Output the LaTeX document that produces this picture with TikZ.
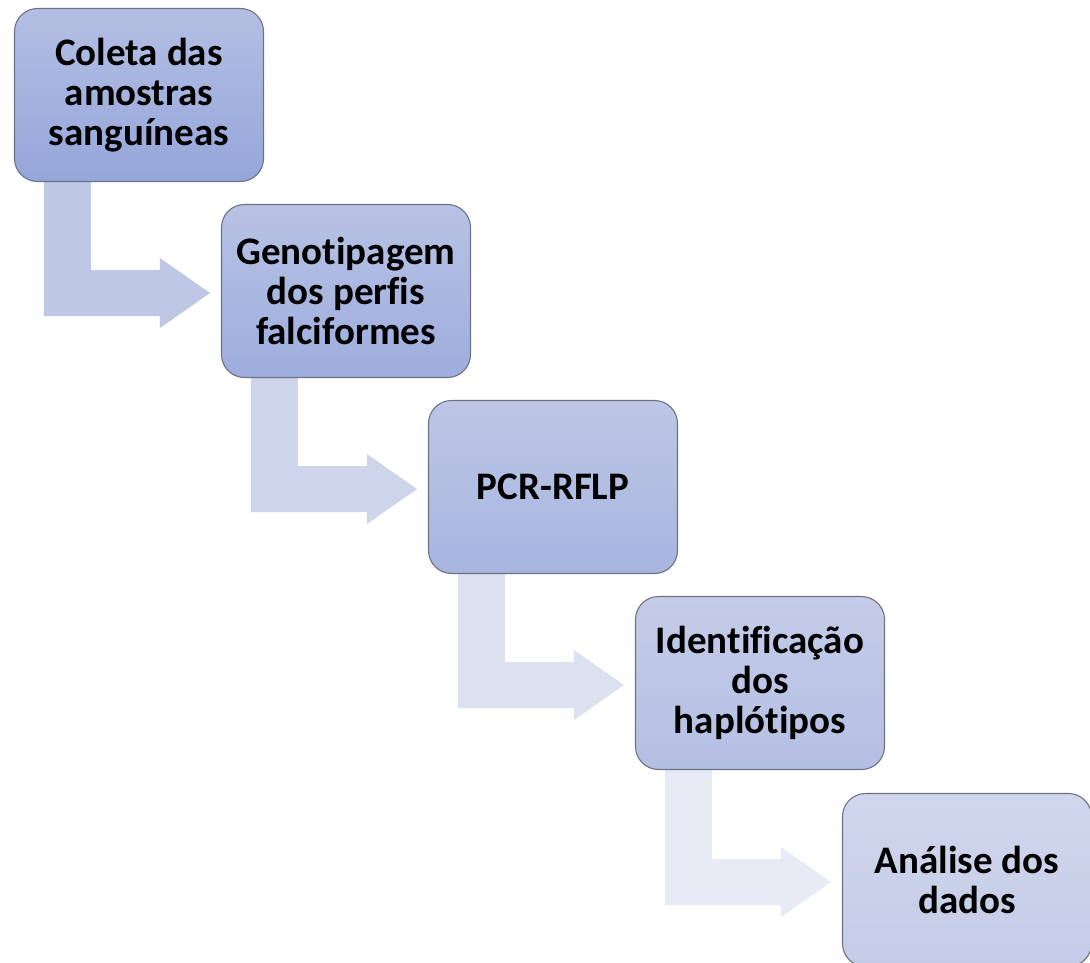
\documentclass[tikz,border=0pt]{standalone}
\usepackage{fontspec}
\setmainfont{Carlito}[Ligatures=NoCommon]
\usetikzlibrary{calc}
\pgfdeclarelayer{background}
\pgfsetlayers{background,main}
\definecolor{bordc}{HTML}{6E7383}
\definecolor{aA}{HTML}{BEC7E3}
\definecolor{aB}{HTML}{CED4EA}
\definecolor{aC}{HTML}{DCE1F0}
\definecolor{aD}{HTML}{E8EBF5}
\tikzset{
  stepbox/.style={rectangle, rounded corners=23pt, draw=bordc, line width=1.1pt,
    minimum width=249pt, minimum height=173pt, inner sep=0pt, align=center,
    font=\bfseries\fontsize{39}{40}\selectfont, text=black}
}
\newcommand{\bentarr}[3]{%
  \fill[#3] let \p1=(#1.south west), \p2=(#2.west) in
    (\x1+30pt,\y1+8pt) -- (\x1+30pt,\y2-25pt) -- (\x2-61pt,\y2-25pt) --
    (\x2-61pt,\y2-37pt) -- (\x2-11pt,\y2-2pt) -- (\x2-61pt,\y2+33pt) --
    (\x2-61pt,\y2+21pt) -- (\x1+77pt,\y2+21pt) -- (\x1+77pt,\y1+8pt) -- cycle;}
\begin{document}
\begin{tikzpicture}[x=1pt,y=1pt]
\useasboundingbox (0,0) rectangle (1090,-963);
\node[stepbox, top color={rgb,255:red,180;green,191;blue,227}, bottom color={rgb,255:red,149;green,166;blue,218}] (b1) at (139,-95) {Coleta das\\amostras\\sanguíneas};
\node[stepbox, top color={rgb,255:red,184;green,194;blue,228}, bottom color={rgb,255:red,157;green,173;blue,221}] (b2) at (346,-291) {Genotipagem\\dos perfis\\falciformes};
\node[stepbox, top color={rgb,255:red,189;green,198;blue,230}, bottom color={rgb,255:red,167;green,181;blue,224}] (b3) at (553,-487) {PCR-RFLP};
\node[stepbox, top color={rgb,255:red,196;green,204;blue,232}, bottom color={rgb,255:red,180;green,191;blue,228}] (b4) at (760,-683) {Identificação\\dos\\haplótipos};
\node[stepbox, top color={rgb,255:red,208;green,214;blue,236}, bottom color={rgb,255:red,196;green,204;blue,232}] (b5) at (967,-880) {Análise dos\\dados};
\begin{pgfonlayer}{background}
\fill[white] (0,0) rectangle (1090,-963);
\bentarr{b1}{b2}{aA}
\bentarr{b2}{b3}{aB}
\bentarr{b3}{b4}{aC}
\bentarr{b4}{b5}{aD}
\end{pgfonlayer}
\end{tikzpicture}
\end{document}
